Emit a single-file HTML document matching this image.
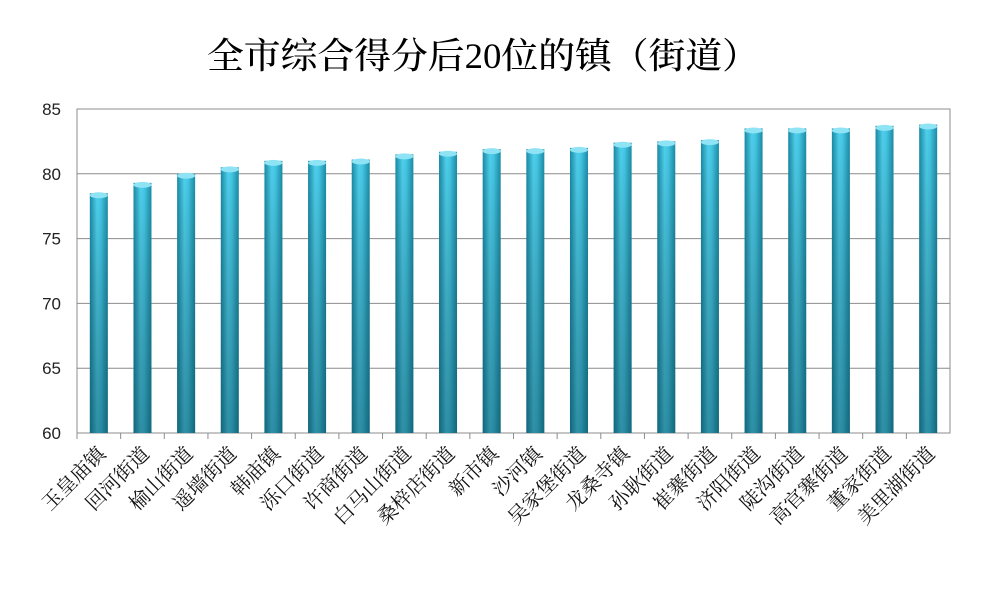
<!DOCTYPE html>
<html><head><meta charset="utf-8"><style>
body{margin:0;background:#fff;}
svg{display:block;}
</style></head><body>
<svg id="chart" width="1004" height="591" xmlns="http://www.w3.org/2000/svg">
<defs>
<linearGradient id="gh" x1="0" x2="1" y1="0" y2="0">
<stop offset="0" stop-color="#1a8aa6"/><stop offset="0.4" stop-color="#4fd0ec"/><stop offset="0.6" stop-color="#45c8e6"/><stop offset="1" stop-color="#1b8ca6"/>
</linearGradient>
<linearGradient id="gv" x1="0" x2="0" y1="0" y2="1">
<stop offset="0" stop-color="#000" stop-opacity="0"/><stop offset="1" stop-color="#00303c" stop-opacity="0.4"/>
</linearGradient>
</defs>
<text x="483" y="68" text-anchor="middle" font-family="'Liberation Serif','Noto Serif CJK SC',serif" font-size="36" font-weight="500" textLength="552" lengthAdjust="spacingAndGlyphs">全市综合得分后20位的镇（街道）</text>
<g id="grid"></g><g id="bars"></g><g id="labels"></g>
</svg>
<script>
const categories=["玉皇庙镇","回河街道","榆山街道","遥墙街道","韩庙镇","泺口街道","许商街道","白马山街道","桑梓店街道","新市镇","沙河镇","吴家堡街道","龙桑寺镇","孙耿街道","崔寨街道","济阳街道","陡沟街道","高官寨街道","董家街道","美里湖街道"];
const values=[78.5,79.3,80.0,80.5,81.0,81.0,81.1,81.5,81.7,81.9,81.9,82.0,82.4,82.5,82.6,83.5,83.5,83.5,83.7,83.8];
const yTicks=[60,65,70,75,80,85];
const NS="http://www.w3.org/2000/svg";
const L=77,R=950,T=109,B=433,ymin=60,ymax=85;
const y=v=>B-(v-ymin)/(ymax-ymin)*(B-T);
const bw=(R-L)/categories.length;
const x=i=>L+bw*(i+0.5);
function mk(tag,attrs,parent){const e=document.createElementNS(NS,tag);for(const k in attrs)e.setAttribute(k,attrs[k]);parent.appendChild(e);return e;}
const grid=document.getElementById('grid'),bars=document.getElementById('bars'),labels=document.getElementById('labels');
yTicks.forEach(t=>{
 const ln=mk('line',{x1:L,x2:R,y1:y(t),y2:y(t),stroke:'#8c8c8c','stroke-width':1},grid);
 
 
 const tx=mk('text',{x:L-16,y:y(t)+6,'text-anchor':'end','font-family':'Liberation Sans,sans-serif','font-size':17,fill:'#222'},grid);
 tx.textContent=t;
 
 
});
const fr=mk('rect',{x:L,y:T,width:R-L,height:B-T,fill:'none',stroke:'#8c8c8c','stroke-width':1},grid);


categories.forEach((c,i)=>{
 const w=18,cx=x(i),top=y(values[i]);
 const g=mk('g',{},bars);
 
 
 mk('rect',{x:cx-w/2,y:top,width:w,height:B-top,fill:'url(#gh)'},g);
 mk('rect',{x:cx-w/2,y:top,width:w,height:B-top,fill:'url(#gv)'},g);
 mk('ellipse',{cx:cx,cy:top+2,rx:w/2,ry:3,fill:'#8ee3f5'},g);
 const tk=mk('line',{x1:L+bw*i,x2:L+bw*i,y1:B,y2:B+6,stroke:'#8c8c8c'},grid);
 
 
 const tx=mk('text',{x:cx+8,y:B+22,'text-anchor':'end','font-family':"'Liberation Serif','Noto Serif CJK SC',serif",'font-size':20,fill:'#111',transform:`rotate(-45 ${cx+8} ${B+22})`},labels);
 tx.textContent=c;
 
 
});
</script>
</body></html>
